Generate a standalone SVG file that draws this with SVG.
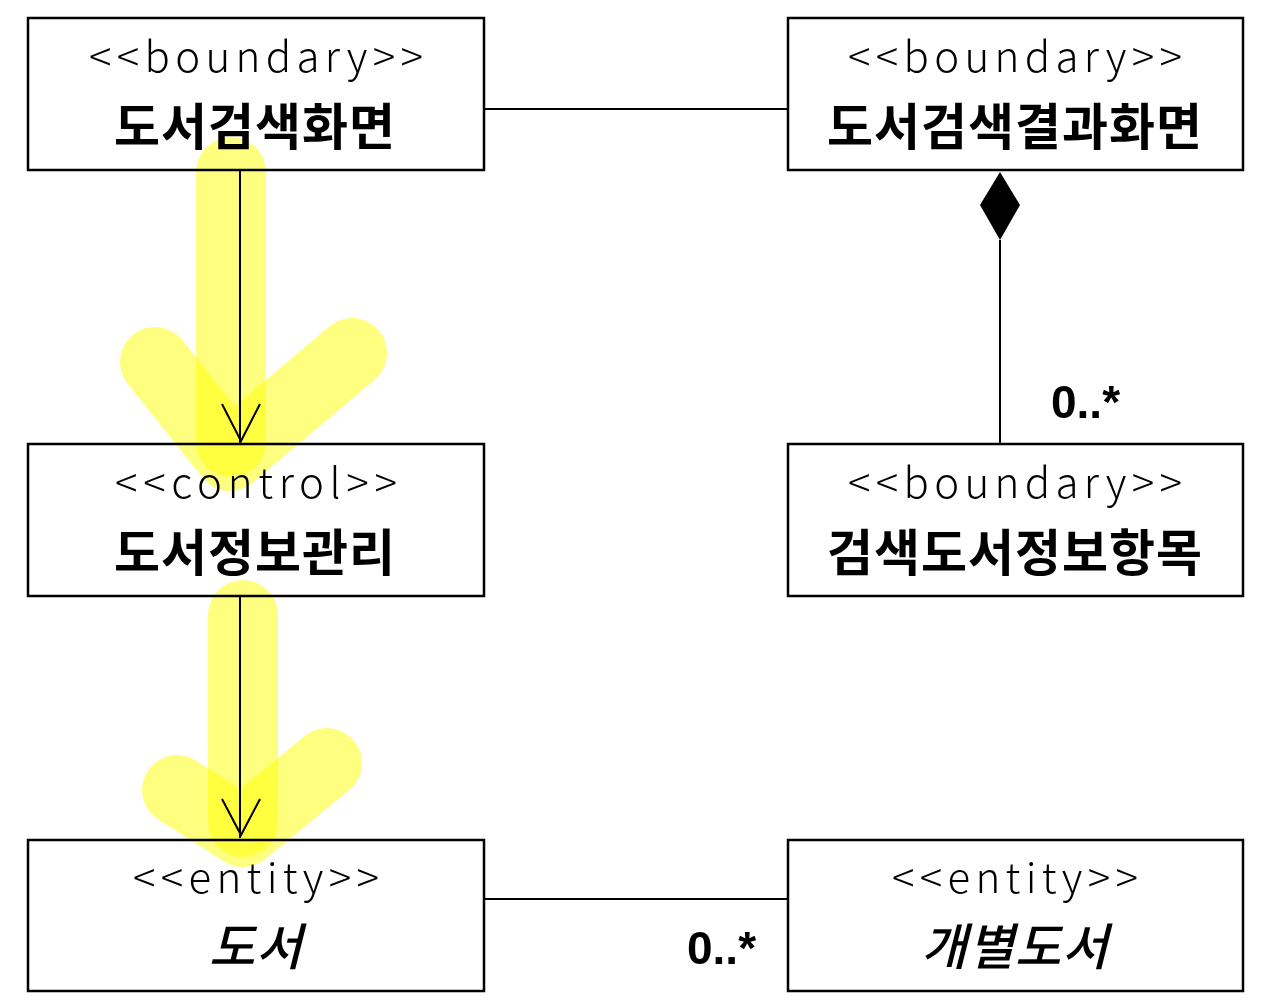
<svg xmlns="http://www.w3.org/2000/svg" width="1274" height="1000" viewBox="0 0 1274 1000">
<style>
.box{fill:#fff;stroke:#000;stroke-width:2.5}
.st{font-family:"Noto Sans CJK KR","Noto Sans",sans-serif;font-weight:300;font-size:42px;fill:#000;text-anchor:middle}
.nm{font-family:"Noto Sans CJK KR",sans-serif;font-weight:700;font-size:50px;letter-spacing:1px;fill:#000;text-anchor:middle}
.it{font-style:italic;font-weight:500}
.ln{stroke:#000;stroke-width:2;fill:none}
.mul{font-family:"Liberation Sans","Noto Sans",sans-serif;font-weight:700;font-size:46px;fill:#000}
.hl{stroke:#ffff00;stroke-opacity:0.5;stroke-width:70;stroke-linecap:round;stroke-linejoin:round;fill:none}
#highlight{mix-blend-mode:multiply}
</style>
<rect width="1274" height="1000" fill="#fff"/>
<g id="connectors">
<line class="ln" x1="484" y1="109" x2="788" y2="109"/>
<line class="ln" x1="484" y1="899" x2="788" y2="899"/>
<line class="ln" x1="240" y1="170" x2="240" y2="443"/>
<polyline class="ln" points="222,404 241,441 260,404"/>
<line class="ln" x1="240" y1="596" x2="240" y2="838"/>
<polyline class="ln" points="222,799 241,835 260,799"/>
<line class="ln" x1="1000" y1="240" x2="1000" y2="444"/>
<polygon points="1000,172 1020,205 1000,240 980,205" fill="#000"/>
<text class="mul" x="1051" y="418">0..*</text>
<text class="mul" x="687" y="964">0..*</text>
</g>
<g id="n1"><rect class="box" x="28" y="18" width="456" height="152"/><text class="st" x="256" y="72" textLength="334" lengthAdjust="spacing">&lt;&lt;boundary&gt;&gt;</text><text class="nm" x="255" y="145">도서검색화면</text></g>
<g id="n2"><rect class="box" x="788" y="18" width="455" height="152"/><text class="st" x="1015" y="72" textLength="334" lengthAdjust="spacing">&lt;&lt;boundary&gt;&gt;</text><text class="nm" x="1015" y="145">도서검색결과화면</text></g>
<g id="n3"><rect class="box" x="28" y="444" width="456" height="152"/><text class="st" x="256" y="498" textLength="282" lengthAdjust="spacing">&lt;&lt;control&gt;&gt;</text><text class="nm" x="255" y="571">도서정보관리</text></g>
<g id="n4"><rect class="box" x="788" y="444" width="455" height="152"/><text class="st" x="1015" y="498" textLength="334" lengthAdjust="spacing">&lt;&lt;boundary&gt;&gt;</text><text class="nm" x="1015" y="571">검색도서정보항목</text></g>
<g id="n5"><rect class="box" x="28" y="840" width="456" height="151"/><text class="st" x="256" y="893" textLength="246" lengthAdjust="spacing">&lt;&lt;entity&gt;&gt;</text><text class="nm it" x="256" y="965">도서</text></g>
<g id="n6"><rect class="box" x="788" y="840" width="455" height="151"/><text class="st" x="1015" y="893" textLength="246" lengthAdjust="spacing">&lt;&lt;entity&gt;&gt;</text><text class="nm it" x="1015" y="965">개별도서</text></g>
<g id="highlight">
<line class="hl" x1="231" y1="172" x2="231" y2="442"/>
<polyline class="hl" points="155,362 230,456 352,353"/>
<line class="hl" x1="243" y1="615" x2="243" y2="822"/>
<polyline class="hl" points="177,790 243,832 327,763"/>
</g>
</svg>
